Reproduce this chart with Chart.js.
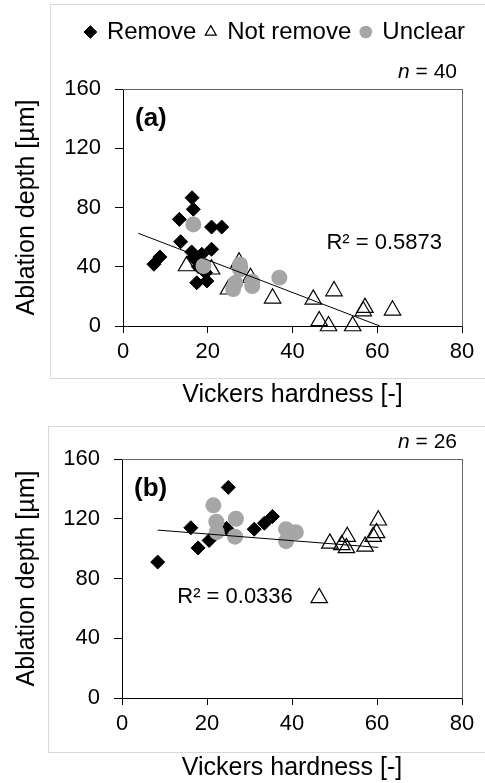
<!DOCTYPE html>
<html>
<head>
<meta charset="utf-8">
<script src="https://cdn.jsdelivr.net/npm/chart.js@4.4.1/dist/chart.umd.min.js"></script>
<style>
  html, body { margin: 0; padding: 0; background: #fff; }
  body { width: 485px; height: 783px; position: relative; overflow: hidden; }
  .frame { position: absolute; border: 1px solid #d9d9d9; }
  .wrap { position: absolute; left: 0; width: 485px; }
</style>
</head>
<body>
<div class="frame" style="left:50px; top:4px; width:440px; height:373px"></div>
<div class="frame" style="left:48px; top:426px; width:440px; height:325px"></div>
<div class="wrap" style="top:0; height:410px"><canvas id="chartA"></canvas></div>
<div class="wrap" style="top:410px; height:373px"><canvas id="chartB"></canvas></div>

<script>
// --- data (a), n = 40 ---
const aRemoveX = [7.3, 8.7, 13.6, 13.3, 16.3, 16.6, 20.9, 23.3, 16.6, 18.6, 20.9, 17.4, 19.8, 18.2, 19.5, 17.8, 16.2];
const aRemoveY = [41.7, 46.6, 56.9, 72.0, 86.6, 78.8, 66.8, 66.8, 46.1, 48.4, 51.8, 29.2, 30.4, 44.0, 36.0, 40.0, 50.0];
const aNotX = [15.0, 20.9, 24.9, 27.4, 30.1, 35.3, 44.9, 49.8, 57.1, 56.7, 63.6, 46.3, 48.5, 54.2];
const aNotY = [40.5, 38.3, 24.8, 43.0, 32.6, 18.7, 18.0, 23.6, 12.4, 10.1, 10.6, 3.4, 0.0, 0.0];
const aUnclearX = [16.6, 19.0, 27.6, 27.6, 26.0, 30.5, 30.5, 36.9, 26.5];
const aUnclearY = [68.6, 40.5, 41.5, 38.3, 25.0, 27.0, 30.0, 32.6, 29.0];
const aTrendX = [3.6, 60.6];
const aTrendY = [62.6, 0.0];

// --- data (b), n = 26 ---
const bRemoveX = [8.4, 16.2, 17.9, 20.5, 24.6, 25.0, 31.1, 33.5, 35.4];
const bRemoveY = [91.0, 114.0, 100.5, 105.5, 113.6, 141.0, 113.0, 117.0, 121.5];
const bNotX = [46.4, 48.9, 51.7, 53.0, 52.8, 57.2, 60.3, 59.9, 59.1];
const bNotY = [67.0, 103.5, 102.5, 108.0, 100.5, 101.5, 119.0, 110.5, 108.0];
const bUnclearX = [21.5, 22.2, 22.3, 26.8, 26.6, 38.6, 40.9, 38.6];
const bUnclearY = [129.0, 118.0, 111.0, 120.0, 108.0, 113.0, 111.0, 105.0];
const bTrendX = [8.4, 60.3];
const bTrendY = [112.4, 100.8];

// axis ticks
const xTicks = [0, 20, 40, 60, 80];
const yTicks = [0, 40, 80, 120, 160];

const FONT = '"Liberation Sans", Arial, sans-serif';
Chart.defaults.font.family = FONT;
Chart.defaults.color = '#000';

const toPoints = (xs, ys) => xs.map((x, i) => ({ x, y: ys[i] }));

// text inside the plot: panel label, R², n
const notesPlugin = {
  id: 'notes',
  afterDatasetsDraw(chart, args, opts) {
    const { ctx, chartArea, scales } = chart;
    ctx.save();
    ctx.fillStyle = '#000';
    ctx.textBaseline = 'middle';

    ctx.textAlign = 'left';
    ctx.font = 'bold 26px ' + FONT;
    ctx.fillText(opts.panel, chartArea.left + 12, chartArea.top + 30);

    ctx.font = '22px ' + FONT;
    ctx.fillText(opts.r2, scales.x.getPixelForValue(opts.r2At[0]), scales.y.getPixelForValue(opts.r2At[1]));

    // "n = 40" right aligned above the plot, italic n
    const right = chartArea.right - 5;
    const y = chartArea.top - 17;
    ctx.textAlign = 'right';
    ctx.font = '21px ' + FONT;
    const rest = ' = ' + opts.n;
    ctx.fillText(rest, right, y);
    const w = ctx.measureText(rest).width;
    ctx.font = 'italic 21px ' + FONT;
    ctx.fillText('n', right - w, y);
    ctx.restore();
  }
};

function makeChart(id, d, cfg) {
  const datasets = [
    {
      label: 'Remove', data: toPoints(d.removeX, d.removeY),
      pointStyle: 'rectRot', pointRadius: 7, backgroundColor: '#000', borderColor: '#000', borderWidth: 1,
      order: 3, clip: false
    },
    {
      label: 'Not remove', data: toPoints(d.notX, d.notY),
      pointStyle: 'triangle', pointRadius: 9.5, backgroundColor: 'rgba(255,255,255,0)', borderColor: '#000', borderWidth: 1.2,
      order: 2, clip: false
    },
    {
      label: 'Unclear', data: toPoints(d.unclearX, d.unclearY),
      pointStyle: 'circle', pointRadius: 8, backgroundColor: '#a6a6a6', borderColor: '#a6a6a6', borderWidth: 0,
      order: 1, clip: false
    },
    {
      label: 'trend', type: 'line', data: toPoints(d.trendX, d.trendY),
      showLine: true, borderColor: '#000', borderWidth: 1, pointRadius: 0, fill: false,
      order: 0, clip: false
    }
  ];

  return new Chart(document.getElementById(id), {
    type: 'scatter',
    data: { datasets },
    plugins: [notesPlugin],
    options: {
      responsive: true,
      maintainAspectRatio: false,
      animation: false,
      events: [],
      layout: { padding: { top: cfg.padTop, right: 10, left: 0, bottom: 0 } },
      plugins: {
        tooltip: { enabled: false },
        legend: {
          display: cfg.legend,
          align: 'end',
          labels: {
            usePointStyle: true, boxWidth: 9, boxHeight: 9, padding: 10,
            font: { size: 24 }, color: '#000',
            filter: item => item.text !== 'trend',
            // keep series order, not draw order
            sort: (a, b) => a.datasetIndex - b.datasetIndex
          }
        },
        notes: cfg.notes
      },
      scales: {
        x: {
          type: 'linear', position: 'bottom', min: xTicks[0], max: xTicks[xTicks.length - 1],
          afterBuildTicks: s => { s.ticks = xTicks.map(v => ({ value: v })); },
          ticks: { font: { size: 22 }, color: '#000', padding: 6, maxRotation: 0 },
          grid: { drawOnChartArea: false, tickLength: 7, tickColor: '#000' },
          border: { color: '#000', width: 1 },
          title: { display: true, text: 'Vickers hardness [-]', font: { size: 25 }, color: '#000', padding: { top: 0, bottom: 0 } },
          afterFit: s => { s.height = cfg.bottomH; }
        },
        y: {
          type: 'linear', position: 'left', min: yTicks[0], max: yTicks[yTicks.length - 1],
          afterBuildTicks: s => { s.ticks = yTicks.map(v => ({ value: v })); },
          ticks: { font: { size: 22 }, color: '#000', padding: 14 },
          grid: { drawOnChartArea: false, tickLength: 8, tickColor: '#000' },
          border: { color: '#000', width: 1 },
          title: { display: true, text: 'Ablation depth [µm]', font: { size: 25 }, color: '#000', padding: { top: 12, bottom: 0 } },
          afterFit: s => { s.width = cfg.leftW; }
        },
        // top and right frame of the plot
        xTop: {
          type: 'linear', position: 'top', min: 0, max: 80,
          ticks: { display: false }, grid: { display: false, drawTicks: false },
          border: { color: '#666', width: 1 },
          afterFit: s => { s.height = cfg.topH; }
        },
        yRight: {
          type: 'linear', position: 'right', min: 0, max: 160,
          ticks: { display: false }, grid: { display: false, drawTicks: false },
          border: { color: '#666', width: 1 },
          afterFit: s => { s.width = 13; }
        }
      }
    }
  });
}

makeChart('chartA',
  { removeX: aRemoveX, removeY: aRemoveY, notX: aNotX, notY: aNotY, unclearX: aUnclearX, unclearY: aUnclearY, trendX: aTrendX, trendY: aTrendY },
  { legend: true, padTop: 10, topH: 35, bottomH: 84, leftW: 123,
    notes: { panel: '(a)', r2: 'R² = 0.5873', r2At: [48, 56], n: 40 } });

makeChart('chartB',
  { removeX: bRemoveX, removeY: bRemoveY, notX: bNotX, notY: bNotY, unclearX: bUnclearX, unclearY: bUnclearY, trendX: bTrendX, trendY: bTrendY },
  { legend: false, padTop: 0, topH: 49, bottomH: 85, leftW: 122,
    notes: { panel: '(b)', r2: 'R² = 0.0336', r2At: [13, 67.5], n: 26 } });
</script>
</body>
</html>
